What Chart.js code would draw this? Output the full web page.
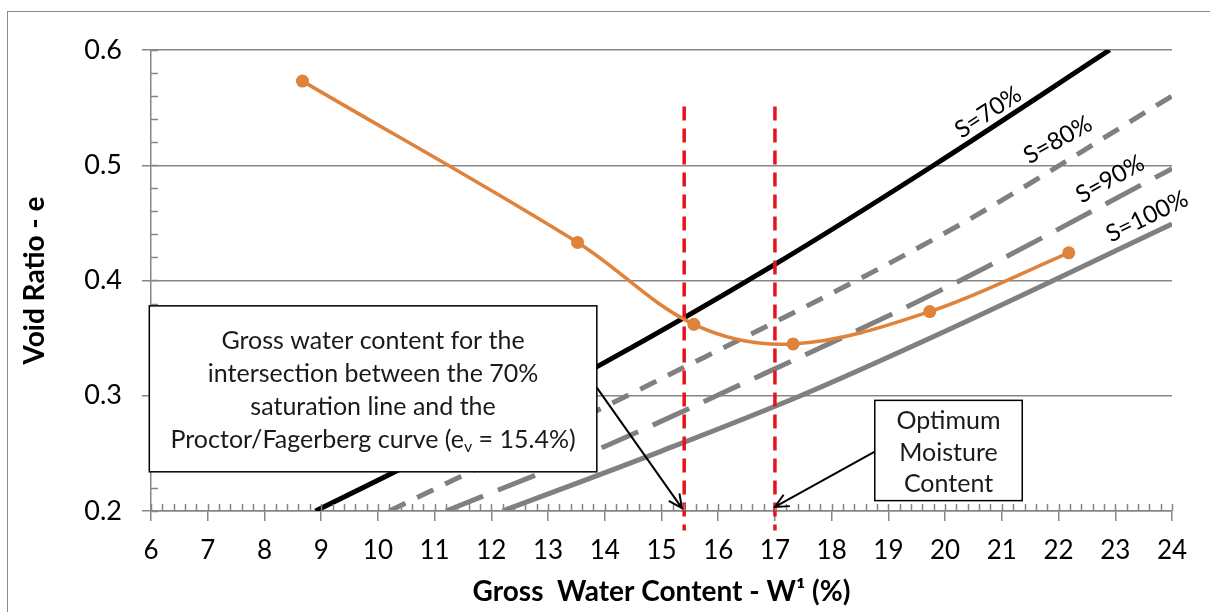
<!DOCTYPE html>
<html>
<head>
<meta charset="utf-8">
<title>Void ratio vs gross water content</title>
<script src="https://cdn.jsdelivr.net/npm/chart.js@4.4.0/dist/chart.umd.min.js"></script>
<style>
    html, body { margin: 0; padding: 0; background: #fff; overflow: hidden; }
    #frame { position: absolute; left: 7px; top: 11px; width: 1240px; height: 660px; border: 1.5px solid #8a8a8a; }
    #chartVoid { position: absolute; left: 0; top: 0; }
</style>
</head>
<body>
<div id="frame"></div>
<canvas id="chartVoid" width="1210" height="612"></canvas>
<script>
// Proctor / Fagerberg curve (gross water content %, void ratio)
var curveW = [8.67, 13.52, 15.57, 17.32, 19.73, 22.18];
var curveE = [0.573, 0.433, 0.362, 0.345, 0.373, 0.424];

// saturation lines
var sat70W = [8.9, 10.3, 14.0, 17.0, 19.8, 22.9];
var sat70E = [0.200, 0.234, 0.329, 0.414, 0.500, 0.600];
var sat80W = [10.2, 14.8, 20.1, 24.0];
var sat80E = [0.200, 0.310, 0.444, 0.560];
var sat90W = [11.2, 14.0, 16.1, 19.9, 24.0];
var sat90E = [0.200, 0.256, 0.303, 0.391, 0.497];
var sat100W = [12.2, 15.0, 17.45, 20.0, 24.0];
var sat100E = [0.200, 0.252, 0.300, 0.356, 0.449];

// vertical marker lines (red dashed)
var markW = [15.4, 17.0];
var markE = [0.551, 0.183];

// labels
var satLabels = ["S=70%", "S=80%", "S=90%", "S=100%"];
var boxText1 = ["Gross water content for the", "intersection between the 70%", "saturation line and the", "Proctor/Fagerberg curve (e|v| = 15.4%)"];
var boxText2 = ["Optimum", "Moisture", "Content"];

// axes
var xMin = 6, xMax = 24, xStep = 1, xMinor = 0.2;
var yMin = 0.2, yMax = 0.6, yStep = 0.1, yMinor = 0.02;

var FONT = "Lato, 'Open Sans', sans-serif";
var GRAY = "#868686";

function toPoints(xs, ys)
{
    var pts = [];
    for (var i = 0; i < xs.length; ++ i)
        pts.push({ x: xs[i], y: ys[i] });
    return pts;
}

// minor ticks, text boxes, arrows and rotated line labels
var overlay = {
    id: "overlay",
    afterDatasetsDraw: function (chart)
    {
        var ctx = chart.ctx;
        var xs = chart.scales.x, ys = chart.scales.y;
        var px = function (v) { return xs.getPixelForValue(v); };
        var py = function (v) { return ys.getPixelForValue(v); };
        var area = chart.chartArea;

        ctx.save();
        // minor ticks, inside the plot
        ctx.strokeStyle = GRAY;
        ctx.lineWidth = 1.5;
        ctx.beginPath();
        for (var v = xMin; v <= xMax + 1e-9; v += xMinor)
        {
            var x = Math.round(px(v)) + 0.5;
            ctx.moveTo(x, area.bottom);
            ctx.lineTo(x, area.bottom - 7);
        }
        for (var w = yMin; w <= yMax + 1e-9; w += yMinor)
        {
            var y = Math.round(py(w)) + 0.5;
            ctx.moveTo(area.left, y);
            ctx.lineTo(area.left + 7, y);
        }
        ctx.stroke();

        // arrows
        drawArrow(ctx, px(13.86), py(0.307), px(15.36), py(0.2025));
        drawArrow(ctx, px(18.76), py(0.2515), px(17.0), py(0.2035));

        // text boxes
        drawBox(ctx, px(5.97), py(0.378), px(13.86), py(0.234), boxText1, 33);
        drawBox(ctx, px(18.76), py(0.296), px(21.36), py(0.209), boxText2, 31.5);

        // rotated labels along the saturation lines
        var labelAt = [[20.76, 0.546, 33], [21.99, 0.522, 29], [22.91, 0.488, 29], [23.56, 0.4555, 26]];
        ctx.fillStyle = "#000";
        ctx.font = "24px " + FONT;
        ctx.textAlign = "center";
        ctx.textBaseline = "middle";
        for (var i = 0; i < satLabels.length; ++ i)
        {
            ctx.save();
            ctx.translate(px(labelAt[i][0]), py(labelAt[i][1]));
            ctx.rotate(-labelAt[i][2] * Math.PI / 180);
            ctx.fillText(satLabels[i], 0, 0);
            ctx.restore();
        }
        ctx.restore();
    }
};

function drawArrow(ctx, x1, y1, x2, y2)
{
    var a = Math.atan2(y2 - y1, x2 - x1);
    var h = 15, s = 0.45;
    ctx.save();
    ctx.strokeStyle = "#000";
    ctx.lineWidth = 2;
    ctx.beginPath();
    ctx.moveTo(x1, y1);
    ctx.lineTo(x2, y2);
    ctx.moveTo(x2 - h * Math.cos(a - s), y2 - h * Math.sin(a - s));
    ctx.lineTo(x2, y2);
    ctx.lineTo(x2 - h * Math.cos(a + s), y2 - h * Math.sin(a + s));
    ctx.stroke();
    ctx.restore();
}

function drawBox(ctx, l, t, r, b, lines, lh)
{
    ctx.save();
    ctx.fillStyle = "#fff";
    ctx.fillRect(l, t, r - l, b - t);
    ctx.strokeStyle = "#000";
    ctx.lineWidth = 1.5;
    ctx.strokeRect(l, t, r - l, b - t);
    ctx.fillStyle = "#1a1a1a";
    ctx.textBaseline = "middle";
    var cx = (l + r) / 2;
    var cy = (t + b) / 2 + 2;
    var y0 = cy - (lines.length - 1) * lh / 2;
    for (var i = 0; i < lines.length; ++ i)
    {
        // "|v|" marks a subscript
        var parts = lines[i].split("|");
        var widths = [];
        var total = 0;
        for (var j = 0; j < parts.length; ++ j)
        {
            ctx.font = (j % 2 ? "16px " : "25px ") + FONT;
            widths.push(ctx.measureText(parts[j]).width);
            total += widths[j];
        }
        var x = cx - total / 2;
        ctx.textAlign = "left";
        for (var k = 0; k < parts.length; ++ k)
        {
            ctx.font = (k % 2 ? "16px " : "25px ") + FONT;
            ctx.fillText(parts[k], x, y0 + i * lh + (k % 2 ? 7 : 0));
            x += widths[k];
        }
    }
    ctx.restore();
}

var config = {
    type: "scatter",
    data: {
        datasets: [
            {
                label: "Proctor/Fagerberg",
                data: toPoints(curveW, curveE),
                showLine: true,
                tension: 0.35,
                borderColor: "#df823a",
                backgroundColor: "#df823a",
                borderWidth: 3.5,
                pointRadius: 6.5,
                pointBorderWidth: 0
            },
            {
                label: "mark1",
                data: toPoints([markW[0], markW[0]], markE),
                showLine: true,
                clip: false,
                borderColor: "#e3141c",
                borderWidth: 3.5,
                borderDash: [14, 8],
                pointRadius: 0
            },
            {
                label: "mark2",
                data: toPoints([markW[1], markW[1]], markE),
                showLine: true,
                clip: false,
                borderColor: "#e3141c",
                borderWidth: 3.5,
                borderDash: [14, 8],
                pointRadius: 0
            },
            {
                label: "S=70%",
                data: toPoints(sat70W, sat70E),
                showLine: true,
                cubicInterpolationMode: "monotone",
                borderColor: "#000",
                borderWidth: 5,
                pointRadius: 0
            },
            {
                label: "S=80%",
                data: toPoints(sat80W, sat80E),
                showLine: true,
                cubicInterpolationMode: "monotone",
                borderColor: "#808080",
                borderWidth: 5,
                borderDash: [18, 13],
                pointRadius: 0
            },
            {
                label: "S=90%",
                data: toPoints(sat90W, sat90E),
                showLine: true,
                cubicInterpolationMode: "monotone",
                borderColor: "#808080",
                borderWidth: 5,
                borderDash: [40, 16],
                pointRadius: 0
            },
            {
                label: "S=100%",
                data: toPoints(sat100W, sat100E),
                showLine: true,
                cubicInterpolationMode: "monotone",
                borderColor: "#808080",
                borderWidth: 5,
                pointRadius: 0
            }
        ]
    },
    options: {
        responsive: false,
        animation: false,
        layout: { padding: { left: 0, top: 50, right: 38, bottom: 0 } },
        plugins: {
            legend: { display: false },
            tooltip: { enabled: false }
        },
        scales: {
            x: {
                type: "linear",
                min: xMin,
                max: xMax,
                afterFit: function (scale) { scale.height = 101; },
                ticks: {
                    stepSize: xStep,
                    color: "#000",
                    padding: 14,
                    maxRotation: 0,
                    font: { family: FONT, size: 26 }
                },
                grid: { drawOnChartArea: false, drawTicks: true, tickLength: 10, color: GRAY, lineWidth: 1.5 },
                border: { color: GRAY, width: 1.5 },
                title: {
                    display: true,
                    text: "Gross  Water Content - W\u00b9 (%)",
                    color: "#000",
                    padding: 3,
                    font: { family: FONT, size: 28, weight: "bold" }
                }
            },
            y: {
                min: yMin,
                max: yMax,
                afterFit: function (scale) { scale.width = 151; },
                ticks: {
                    stepSize: yStep,
                    color: "#000",
                    padding: 20,
                    font: { family: FONT, size: 27 },
                    callback: function (v) { return v.toFixed(1); }
                },
                grid: { drawTicks: true, tickLength: 9, color: GRAY, lineWidth: 1.5 },
                border: { color: GRAY, width: 1.5 },
                title: {
                    display: true,
                    text: "Void Ratio - e",
                    color: "#000",
                    padding: 18,
                    font: { family: FONT, size: 28, weight: "bold" }
                }
            }
        }
    },
    plugins: [overlay]
};

document.addEventListener("DOMContentLoaded", function ()
{
    var ctx = document.getElementById("chartVoid").getContext("2d");
    new Chart(ctx, config);
});
</script>
</body>
</html>
